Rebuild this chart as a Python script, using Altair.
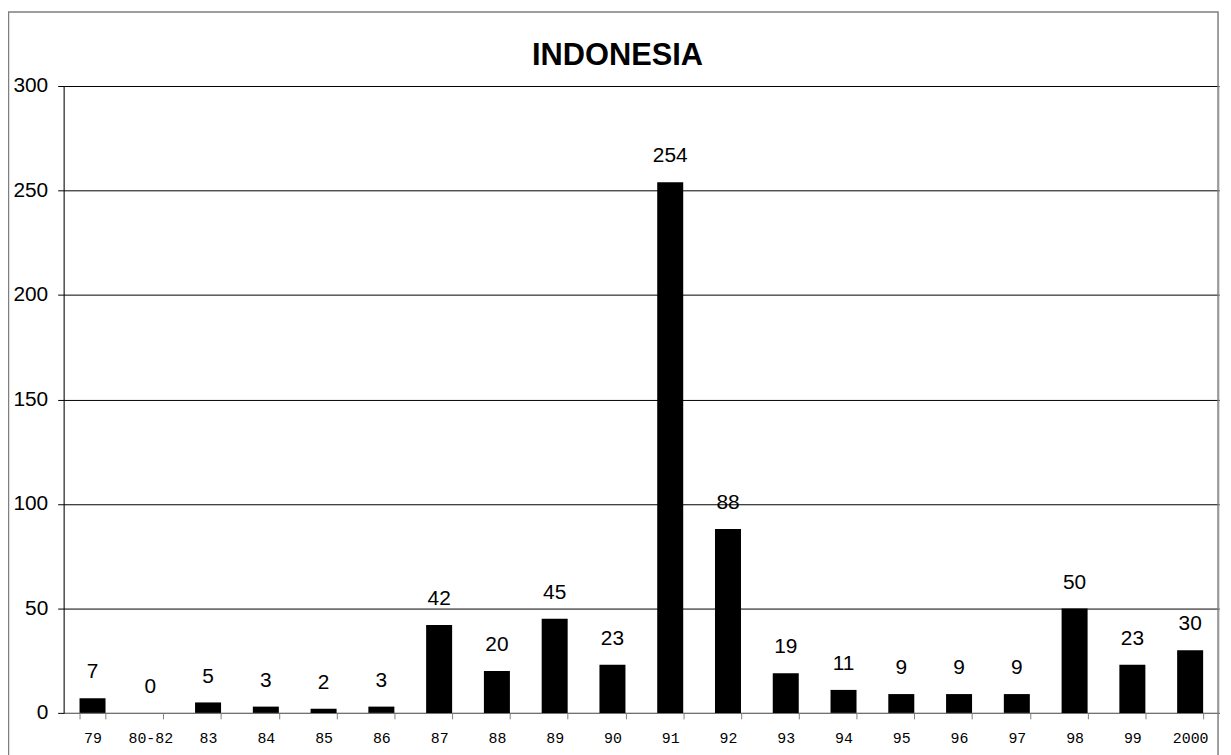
import altair as alt
import pandas as pd

title_text = ["INDONESIA"]
categories = ["79", "80-82", "83", "84", "85", "86", "87", "88", "89", "90",
              "91", "92", "93", "94", "95", "96", "97", "98", "99", "2000"]
values = [7, 0, 5, 3, 2, 3, 42, 20, 45, 23, 254, 88, 19, 11, 9, 9, 9, 50, 23, 30]

df = pd.DataFrame({"year": categories, "count": values})
tdf = pd.DataFrame({"t": title_text})

W, H = 1163, 631

xenc = alt.X("year:N", sort=categories, title=None,
             scale=alt.Scale(paddingInner=0.55, paddingOuter=0.275),
             axis=alt.Axis(labelAngle=0, labelFont="Liberation Mono", labelFontSize=15,
                           labelColor="black", labelPadding=12, tickBand="extent",
                           ticks=True, tickSize=6, tickColor="#808080",
                           domainColor="#808080", grid=False))
yenc = alt.Y("count:Q", title=None,
             scale=alt.Scale(domain=[0, 300], nice=False),
             axis=alt.Axis(values=[0, 50, 100, 150, 200, 250, 300], labelFont="Liberation Sans",
                           labelFontSize=21, labelColor="black", labelPadding=10,
                           tickSize=6, tickColor="black", domainColor="black",
                           grid=True, gridColor="black", gridWidth=1, gridOpacity=1))

frame = alt.Chart(tdf).mark_rect(fill=None, stroke="#7f7f7f", strokeWidth=1.5).encode(
    x=alt.value(-55.5), x2=alt.value(W - 1), y=alt.value(-74.5), y2=alt.value(H + 200)
)

title = alt.Chart(tdf).mark_text(font="Liberation Sans", fontSize=31, fontWeight="bold",
                                 color="black", align="center", baseline="alphabetic").encode(
    x=alt.value(W / 2 - 24), y=alt.value(-21), text="t:N"
)

bars = alt.Chart(df).mark_bar(color="black").encode(x=xenc, y=yenc)

labels = alt.Chart(df).mark_text(font="Liberation Sans", fontSize=21, color="black",
                                 baseline="alphabetic", dy=-20).encode(
    x=alt.X("year:N", sort=categories),
    y=alt.Y("count:Q"),
    text=alt.Text("count:Q"),
)

chart = alt.layer(bars, labels, frame, title).properties(
    width=W, height=H,
    autosize=alt.AutoSizeParams(type="none"),
    padding={"left": 56, "top": 76, "right": 4, "bottom": 60},
).configure_view(stroke=None).configure(background="white")

chart.save("out.html", embed_options={"renderer": "svg", "actions": False})
